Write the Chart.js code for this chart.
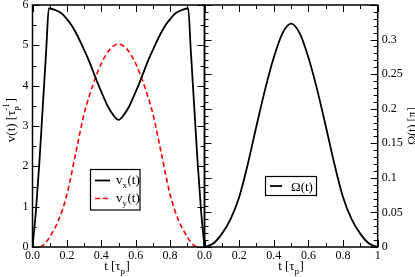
<!DOCTYPE html>
<html>
<head>
<meta charset="utf-8">
<script src="https://cdn.jsdelivr.net/npm/chart.js@4.4.1/dist/chart.umd.min.js"></script>
<style>
  html, body { margin: 0; padding: 0; background: #fff; }
  #wrap { position: relative; width: 415px; height: 277px; }
  #wrap canvas { position: absolute; left: 0; top: 0; }
</style>
</head>
<body>
<div id="wrap">
  <canvas id="vChart" width="415" height="277"></canvas>
  <canvas id="wChart" width="415" height="277"></canvas>
</div>
<script>
// values
var tVx = [0, 0.02, 0.04, 0.06, 0.08, 0.095, 0.13, 0.17, 0.2, 0.23, 0.26, 0.29, 0.32, 0.35, 0.38, 0.41, 0.44, 0.47, 0.5,
           0.53, 0.56, 0.59, 0.62, 0.65, 0.68, 0.71, 0.74, 0.77, 0.8, 0.83, 0.87, 0.905, 0.92, 0.94, 0.96, 0.98, 1];
var vx  = [0, 0.9, 2.1, 3.5, 4.9, 5.92, 5.88, 5.79, 5.65, 5.48, 5.25, 4.98, 4.7, 4.38, 4.05, 3.75, 3.47, 3.27, 3.15,
           3.27, 3.47, 3.75, 4.05, 4.38, 4.7, 4.98, 5.25, 5.48, 5.65, 5.79, 5.88, 5.92, 4.9, 3.5, 2.1, 0.9, 0];

var tVy = [0.045, 0.07, 0.1, 0.15, 0.2, 0.25, 0.3, 0.35, 0.4, 0.45, 0.5, 0.55, 0.6, 0.65, 0.7, 0.75, 0.8, 0.85, 0.9, 0.93, 0.955];
var vy  = [0, 0.07, 0.25, 0.65, 1.3, 2.3, 3.3, 4.0, 4.55, 4.9, 5.03, 4.9, 4.55, 4.0, 3.3, 2.3, 1.3, 0.65, 0.25, 0.07, 0];

var tOmega = [0, 0.05, 0.1, 0.15, 0.2, 0.25, 0.3, 0.35, 0.4, 0.45, 0.5, 0.55, 0.6, 0.65, 0.7, 0.75, 0.8, 0.85, 0.9, 0.95, 1];
var omega  = [0, 0.005, 0.019, 0.04, 0.072, 0.12, 0.175, 0.228, 0.274, 0.309, 0.323,
              0.309, 0.274, 0.228, 0.175, 0.12, 0.072, 0.04, 0.019, 0.005, 0];

var tTicks = [0, 0.2, 0.4, 0.6, 0.8, 1];
var vTicks = [0, 1, 2, 3, 4, 5, 6];
var omegaTicks = [0, 0.05, 0.1, 0.15, 0.2, 0.25, 0.3];

var SERIF = '"Liberation Serif", "DejaVu Serif", serif';

function pts(xs, ys) {
  return xs.map(function (x, i) { return { x: x, y: ys[i] }; });
}

// text with sub/superscripts: parts = [[text, 'n'|'sub'|'sup'|'subsup', extra]]
function richWidth(ctx, parts, size) {
  var w = 0;
  parts.forEach(function (p) {
    if (p[1] === 'n') { ctx.font = size + 'px ' + SERIF; w += ctx.measureText(p[0]).width; }
    else if (p[1] === 'subsup') {
      ctx.font = Math.round(size * 0.7) + 'px ' + SERIF;
      w += Math.max(ctx.measureText(p[0]).width, ctx.measureText(p[2]).width) + 1;
    } else { ctx.font = Math.round(size * 0.7) + 'px ' + SERIF; w += ctx.measureText(p[0]).width + 0.5; }
  });
  return w;
}
function drawRich(ctx, parts, x, y, size, align) {
  var w = richWidth(ctx, parts, size);
  var cx = align === 'center' ? x - w / 2 : x;
  ctx.textAlign = 'left';
  ctx.textBaseline = 'alphabetic';
  ctx.fillStyle = '#000';
  parts.forEach(function (p) {
    if (p[1] === 'n') {
      ctx.font = size + 'px ' + SERIF;
      ctx.fillText(p[0], cx, y);
      cx += ctx.measureText(p[0]).width;
    } else {
      var s = Math.round(size * 0.7);
      ctx.font = s + 'px ' + SERIF;
      if (p[1] === 'sub') { ctx.fillText(p[0], cx, y + size * 0.3); cx += ctx.measureText(p[0]).width + 0.5; }
      else if (p[1] === 'sup') { ctx.fillText(p[0], cx, y - size * 0.45); cx += ctx.measureText(p[0]).width + 0.5; }
      else {
        ctx.fillText(p[0], cx, y + size * 0.3);
        ctx.fillText(p[2], cx, y - size * 0.45);
        cx += Math.max(ctx.measureText(p[0]).width, ctx.measureText(p[2]).width) + 1;
      }
    }
  });
}

// inward ticks on all four sides plus the frame
function frameTicks(chart, xStep, xMajorEvery, yStep, yMajorEvery) {
  var ctx = chart.ctx, a = chart.chartArea, xs = chart.scales.x, ys = chart.scales.y;
  ctx.save();
  ctx.strokeStyle = '#000';
  ctx.lineWidth = 1;
  ctx.beginPath();
  var n = Math.round((xs.max - xs.min) / xStep);
  for (var i = 0; i <= n; i++) {
    var px = Math.round(xs.getPixelForValue(xs.min + i * xStep)) + 0.5;
    var len = i % xMajorEvery === 0 ? 7 : 4;
    ctx.moveTo(px, a.bottom); ctx.lineTo(px, a.bottom - len);
    ctx.moveTo(px, a.top); ctx.lineTo(px, a.top + len);
  }
  var m = Math.round((ys.max - ys.min) / yStep);
  for (var j = 0; j <= m; j++) {
    var py = Math.round(ys.getPixelForValue(ys.min + j * yStep)) + 0.5;
    var l2 = j % yMajorEvery === 0 ? 7 : 4;
    ctx.moveTo(a.left, py); ctx.lineTo(a.left + l2, py);
    ctx.moveTo(a.right, py); ctx.lineTo(a.right - l2, py);
  }
  ctx.stroke();
  ctx.lineWidth = 1.5;
  ctx.strokeRect(a.left, a.top, a.right - a.left, a.bottom - a.top);
  ctx.restore();
}

function legendBox(ctx, x, y, w, h) {
  ctx.save();
  ctx.fillStyle = '#fff';
  ctx.fillRect(x, y, w, h);
  ctx.strokeStyle = '#000';
  ctx.lineWidth = 1.2;
  ctx.strokeRect(x, y, w, h);
  ctx.restore();
}
function legendLine(ctx, x1, x2, y, color, dash, width) {
  ctx.save();
  ctx.strokeStyle = color;
  ctx.lineWidth = width;
  ctx.setLineDash(dash);
  ctx.beginPath(); ctx.moveTo(x1, y); ctx.lineTo(x2, y); ctx.stroke();
  ctx.restore();
}

var vDecor = {
  id: 'vDecor',
  afterDraw: function (chart) {
    var ctx = chart.ctx;
    frameTicks(chart, 0.1, 2, 0.5, 2);
    ctx.save();
    // axis titles
    drawRich(ctx, [['t [τ', 'n'], ['p', 'sub'], [']', 'n']], 117, 270, 13, 'center');
    ctx.translate(15, 120);
    ctx.rotate(-Math.PI / 2);
    drawRich(ctx, [['v(t) [τ', 'n'], ['p', 'subsup', '-1'], [']', 'n']], 0, 0, 13, 'center');
    ctx.restore();
    // legend
    legendBox(ctx, 90.5, 169.5, 49.5, 40.5);
    legendLine(ctx, 95, 110, 180.5, '#000', [], 1.8);
    legendLine(ctx, 95, 111, 198.5, '#ff0000', [5, 3], 1.6);
    drawRich(ctx, [['v', 'n'], ['x', 'sub'], ['(t)', 'n']], 116, 184, 13, 'left');
    drawRich(ctx, [['v', 'n'], ['y', 'sub'], ['(t)', 'n']], 116, 202, 13, 'left');
  }
};

var wDecor = {
  id: 'wDecor',
  afterDraw: function (chart) {
    var ctx = chart.ctx;
    frameTicks(chart, 0.1, 2, 0.01, 5);
    ctx.save();
    drawRich(ctx, [['t [τ', 'n'], ['p', 'sub'], [']', 'n']], 291, 270, 13, 'center');
    ctx.translate(416, 126);
    ctx.rotate(-Math.PI / 2);
    drawRich(ctx, [['Ω(t) [π]', 'n']], 0, 0, 12, 'center');
    ctx.restore();
    legendBox(ctx, 265.5, 176.5, 51, 19);
    legendLine(ctx, 270, 282, 186, '#000', [], 1.8);
    drawRich(ctx, [['Ω(t)', 'n']], 291, 190.5, 13, 'left');
  }
};

var tickFont = { family: SERIF, size: 12 };
var noGrid = { display: false, drawTicks: false, tickLength: 0 };

function fixX(s) {
  s.height = 30;
  s.paddingLeft = 0; s.paddingRight = 0; s.paddingTop = 0; s.paddingBottom = 0;
}
function fixY(w) {
  return function (s) {
    s.width = w;
    s.paddingLeft = 0; s.paddingRight = 0; s.paddingTop = 0; s.paddingBottom = 0;
  };
}

new Chart(document.getElementById('vChart'), {
  type: 'line',
  data: {
    datasets: [
      { label: 'vx(t)', data: pts(tVx, vx), borderColor: '#000', borderWidth: 1.8,
        pointRadius: 0, cubicInterpolationMode: 'monotone', fill: false },
      { label: 'vy(t)', data: pts(tVy, vy), borderColor: '#ff0000', borderWidth: 1.6, borderDash: [5, 3],
        pointRadius: 0, cubicInterpolationMode: 'monotone', fill: false }
    ]
  },
  options: {
    responsive: false,
    animation: false,
    layout: { padding: { left: 0, right: 210.5, top: 5, bottom: 0 } },
    plugins: { legend: { display: false }, tooltip: { enabled: false } },
    scales: {
      x: {
        type: 'linear', min: 0, max: 1,
        grid: noGrid, border: { display: false },
        afterBuildTicks: function (s) { s.ticks = tTicks.map(function (v) { return { value: v }; }); },
        afterFit: fixX,
        ticks: { font: tickFont, color: '#000', padding: 2, maxRotation: 0, autoSkip: false,
          callback: function (v) { return v === 1 ? '' : v.toFixed(1); } }
      },
      y: {
        type: 'linear', min: 0, max: 6,
        grid: noGrid, border: { display: false },
        afterBuildTicks: function (s) { s.ticks = vTicks.map(function (v) { return { value: v }; }); },
        afterFit: fixY(32.5),
        ticks: { font: tickFont, color: '#000', padding: 4 }
      }
    }
  },
  plugins: [vDecor]
});

new Chart(document.getElementById('wChart'), {
  type: 'line',
  data: {
    datasets: [
      { label: 'Ω(t)', data: pts(tOmega, omega), borderColor: '#000', borderWidth: 1.8,
        pointRadius: 0, cubicInterpolationMode: 'monotone', fill: false }
    ]
  },
  options: {
    responsive: false,
    animation: false,
    layout: { padding: { left: 204.5, right: 0, top: 5, bottom: 0 } },
    plugins: { legend: { display: false }, tooltip: { enabled: false } },
    scales: {
      x: {
        type: 'linear', min: 0, max: 1,
        grid: noGrid, border: { display: false },
        afterBuildTicks: function (s) { s.ticks = tTicks.map(function (v) { return { value: v }; }); },
        afterFit: fixX,
        ticks: { font: tickFont, color: '#000', padding: 2, maxRotation: 0, autoSkip: false,
          callback: function (v) { return v === 1 ? '1' : v.toFixed(1); } }
      },
      y: {
        type: 'linear', position: 'right', min: 0, max: 0.35,
        grid: noGrid, border: { display: false },
        afterBuildTicks: function (s) { s.ticks = omegaTicks.map(function (v) { return { value: v }; }); },
        afterFit: fixY(37.3),
        ticks: { font: tickFont, color: '#000', padding: 4,
          callback: function (v) { return String(parseFloat(v.toFixed(2))); } }
      }
    }
  },
  plugins: [wDecor]
});
</script>
</body>
</html>
